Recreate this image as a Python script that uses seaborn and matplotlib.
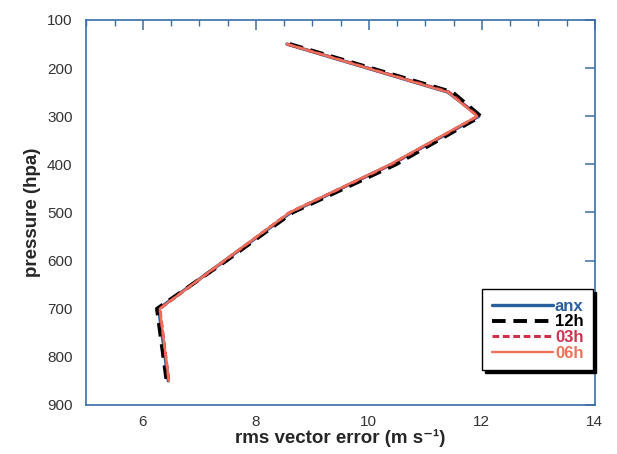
import matplotlib
matplotlib.use("Agg")
import matplotlib.pyplot as plt
from matplotlib.ticker import MultipleLocator
import seaborn as sns
import numpy as np

# data
pressure = [150, 250, 300, 400, 500, 600, 700, 850]
anx = [8.55, 11.40, 11.95, 10.40, 8.62, 7.45, 6.28, 6.45]
h12 = [8.60, 11.48, 11.98, 10.48, 8.65, 7.48, 6.25, 6.42]
h03 = [8.55, 11.42, 11.93, 10.40, 8.60, 7.45, 6.30, 6.46]
h06 = [8.55, 11.40, 11.92, 10.38, 8.60, 7.44, 6.30, 6.46]

names = ["anx", "12h", "03h", "06h"]
colors = ["#2a5f9e", "#000000", "#d0304a", "#f07058"]

sns.set_style("white")
plt.rcParams['font.family'] = ['Liberation Sans', 'DejaVu Sans']

fig = plt.figure(figsize=(6.17, 4.54), dpi=100)
ax = fig.add_axes([0.14, 0.108, 0.824, 0.848])

styles = [dict(lw=2.4, ls="-"),
          dict(lw=2.8, ls=(0, (3.5, 2))),
          dict(lw=2.2, ls=(0, (2.2, 1.2))),
          dict(lw=1.7, ls="-")]
for name, vals, c, st in zip(names, [anx, h12, h03, h06], colors, styles):
    sns.lineplot(x=vals, y=pressure, sort=False, estimator=None, color=c,
                 linewidth=st["lw"], linestyle=st["ls"], label=name, ax=ax)

ax.set_xlim(5, 14)
ax.set_ylim(900, 100)
ax.set_xticks([6, 8, 10, 12, 14])
ax.xaxis.set_minor_locator(MultipleLocator(0.5))
ax.set_yticks(range(100, 1000, 100))

axis_col = "#3a6ea5"
for sp in ax.spines.values():
    sp.set_color(axis_col)
    sp.set_linewidth(1.2)
ax.tick_params(which="both", direction="in", top=True, right=True,
               color=axis_col, labelsize=11, labelcolor="#333333")
ax.tick_params(which="major", length=7, width=1.1)
ax.tick_params(which="minor", length=4, width=1.0)
ax.tick_params(axis="x", pad=7)
ax.tick_params(axis="y", pad=10)

ax.set_xlabel("rms vector error (m s\u207b\u00b9)", fontsize=13.5, fontweight="bold", labelpad=0)
ax.set_ylabel("pressure (hpa)", fontsize=13.5, fontweight="bold", labelpad=4)

leg = ax.legend(loc="lower right", bbox_to_anchor=(0.996, 0.09), borderaxespad=0,
                frameon=True, fancybox=False, shadow={"color": "black", "alpha": 1.0},
                edgecolor="black", handlelength=3.7, handletextpad=0.1,
                labelspacing=0.05, borderpad=0.55, prop={"size": 12, "weight": "bold"})
leg.get_frame().set_linewidth(1.0)
for txt, c in zip(leg.get_texts(), colors):
    txt.set_color(c)

fig.savefig("out.png", dpi=100)
